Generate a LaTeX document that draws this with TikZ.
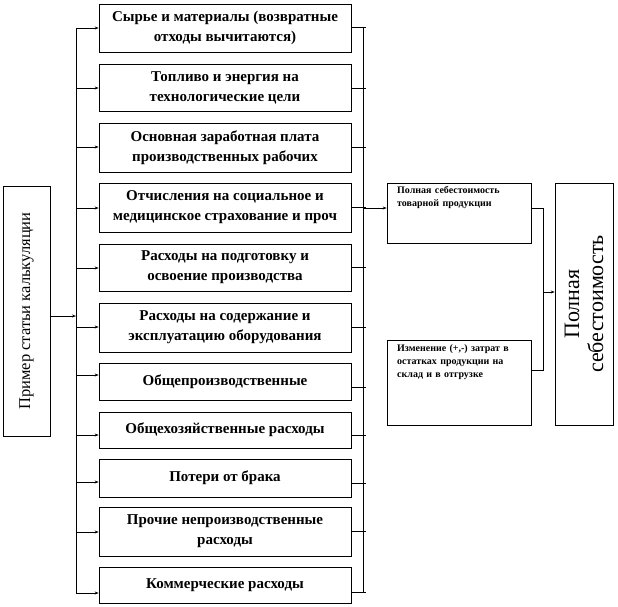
\documentclass[tikz,border=0pt]{standalone}
\usepackage{fontspec}
\setmainfont{Liberation Serif}
\usetikzlibrary{arrows.meta}
\begin{document}
\begin{tikzpicture}[x=1pt,y=-1pt,
  box/.style={draw, line width=0.7pt, inner sep=0pt, align=center},
  mid/.style={box, minimum width=252pt, font=\bfseries\fontsize{15}{20}\selectfont},
  small/.style={inner sep=0pt, align=left, anchor=north west, text width=132pt, font=\bfseries\fontsize{10}{13}\selectfont},
  conn/.style={line width=0.7pt},
  arr/.style={conn, -{Stealth[length=4pt,width=3pt]}}]
\useasboundingbox (0,0) rectangle (618,606);
% left box
\node[box, rotate=90, minimum width=250pt, minimum height=47pt, font=\fontsize{16.5}{18}\selectfont] (L) at (26.5,311) {Пример статьи калькуляции};
% middle boxes
\node[mid, minimum height=48pt] (m1) at (225,28) {Сырье и материалы (возвратные\\отходы вычитаются)};
\node[mid, minimum height=47pt] (m2) at (225,87.5) {Топливо и энергия на\\технологические цели};
\node[mid, minimum height=49pt] (m3) at (225,147.5) {Основная заработная плата\\производственных рабочих};
\node[mid, minimum height=49pt] (m4) at (225,207.5) {Отчисления на социальное и\\медицинское страхование и проч};
\node[mid, minimum height=47pt] (m5) at (225,267.5) {Расходы на подготовку и\\освоение производства};
\node[mid, minimum height=49pt] (m6) at (225,327.5) {Расходы на содержание и\\эксплуатацию оборудования};
\node[mid, minimum height=37pt] (m7) at (225,381.5) {Общепроизводственные};
\node[mid, minimum height=36pt] (m8) at (225,430) {Общехозяйственные расходы};
\node[mid, minimum height=38pt] (m9) at (225,478) {Потери от брака};
\node[mid, minimum height=49pt] (m10) at (225,531.5) {Прочие непроизводственные\\расходы};
\node[mid, minimum height=36pt] (m11) at (225,585) {Коммерческие расходы};
% right boxes
\node[box, minimum width=144pt, minimum height=60pt] (A) at (459,213) {};
\node[small] (At) at (397,186) {Полная себестоимость\\товарной продукции};
\node[box, minimum width=144pt, minimum height=85pt] (B) at (459,382.5) {};
\node[small] (Bt) at (397,344) {Изменение (+,-) затрат в\\остатках продукции на\\склад и в отгрузке};
\node[box, rotate=90, minimum width=242pt, minimum height=58pt, font=\fontsize{22}{24}\selectfont] (C) at (584,304) {Полная\\себестоимость};
% left bus
\coordinate (lt) at (76,28);
\coordinate (lb) at (76,593);
\draw[conn] (lt) -- (lb);
\coordinate (l0) at (76,316);
\draw[arr] (L.south |- l0) -- (l0);
\foreach \i/\y in {1/28,2/88,3/147,4/208,5/268,6/327,7/375,8/435,9/482,10/532,11/593}{
  \coordinate (a\i) at (76,\y);
  \draw[arr] (a\i) -- (a\i -| m\i.west);
}
% right bus
\coordinate (rt) at (363,27);
\coordinate (rb) at (363,592);
\draw[conn] (rt) -- (rb);
\foreach \i/\y in {1/27,2/88,3/147,4/207,5/267,6/327,7/387,8/435,9/483,10/531,11/592}{
  \coordinate (b\i) at (366,\y);
  \draw[conn] (b\i -| m\i.east) -- (b\i);
}
\coordinate (cA) at (363,208);
\draw[arr] (cA) -- (cA -| A.west);
\coordinate (j1) at (543,208);
\coordinate (j2) at (543,370);
\draw[conn] (j1 -| A.east) -- (j1) -- (j2) -- (j2 -| B.east);
\coordinate (j3) at (543,292);
\draw[arr] (j3) -- (j3 -| C.north);
\end{tikzpicture}
\end{document}
